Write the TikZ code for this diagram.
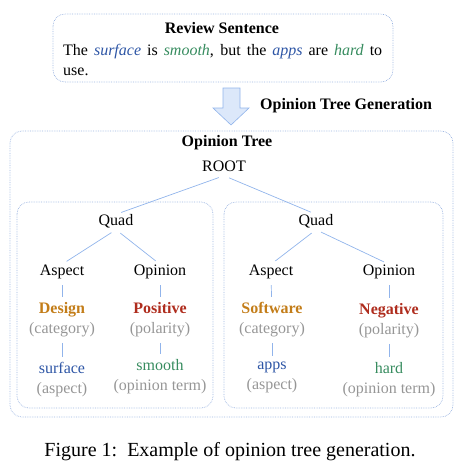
\documentclass[tikz,border=0pt]{standalone}
\usepackage{fontspec}
\setmainfont{Liberation Serif}
\usepackage{xcolor}
\usepackage{tikz}
\definecolor{marcoc}{RGB}{155,180,225}
\definecolor{ramac}{RGB}{145,180,235}
\definecolor{flechac}{RGB}{220,232,250}
\definecolor{aspc}{RGB}{45,85,165}
\definecolor{opic}{RGB}{55,140,95}
\definecolor{catc}{RGB}{195,125,25}
\definecolor{polc}{RGB}{175,45,30}
\definecolor{notac}{RGB}{150,150,150}
\tikzset{
  marco/.style={draw=marcoc, densely dotted, line width=0.7pt, rounded corners=12pt},
  nodo/.style={font=\fontsize{16}{20}\selectfont, inner sep=0pt,
    text height=11pt, text depth=4pt},
  titulo/.style={nodo, font=\fontsize{16}{20}\selectfont\bfseries},
  hoja/.style={font=\fontsize{16}{20}\selectfont, inner sep=0pt, align=center},
  rama/.style={draw=ramac, line width=0.7pt, shorten <=5.5pt, shorten >=5.5pt},
  flecha/.style={draw=ramac, fill=flechac, line width=0.6pt}
}
\newcommand{\nota}[1]{\textcolor{notac}{(#1)}}

\begin{document}
\begin{tikzpicture}[x=1pt, y=-1pt]
  \useasboundingbox (0,0) rectangle (467,474);
  % review sentence
  \draw[marco] (53,14) rectangle (393,82);
  \node[titulo] (rev) at (222,30) {Review Sentence};
  \node[hoja, anchor=north west, text width=319pt, align=justify] (revtxt) at (63,44)
    {The \textcolor{aspc}{\textit{surface}} is \textcolor{opic}{\textit{smooth}}, but the
     \textcolor{aspc}{\textit{apps}} are \textcolor{opic}{\textit{hard}} to\linebreak use.};
  \draw[flecha] (223,88) -- (240,88) -- (240,108) -- (249,108) -- (231,125)
    -- (213,108) -- (223,108) -- cycle;
  \node[titulo, anchor=west] (gen) at (260,106) {Opinion Tree Generation};
  % opinion tree
  \draw[marco] (10,131) rectangle (453,417);
  \draw[marco] (17,202) rectangle (213,408);
  \draw[marco] (224,202) rectangle (443,408);
  \node[titulo] (tit) at (227,143) {Opinion Tree};
  \node[nodo] (root) at (224,168) {ROOT};
  \node[nodo] (q1) at (116,222) {Quad};
  \node[nodo] (q2) at (316,222) {Quad};
  \node[nodo] (a1) at (62,272) {Aspect};
  \node[nodo] (o1) at (160,272) {Opinion};
  \node[nodo] (a2) at (271,272) {Aspect};
  \node[nodo] (o2) at (389,272) {Opinion};
  \node[hoja] (c1) at (62,320) {\textcolor{catc}{\textbf{Design}}\\\nota{category}};
  \node[hoja] (p1) at (160,320) {\textcolor{polc}{\textbf{Positive}}\\\nota{polarity}};
  \node[hoja] (c2) at (272,320) {\textcolor{catc}{\textbf{Software}}\\\nota{category}};
  \node[hoja] (p2) at (389,321) {\textcolor{polc}{\textbf{Negative}}\\\nota{polarity}};
  \node[hoja] (t1) at (62,380) {\textcolor{aspc}{surface}\\\nota{aspect}};
  \node[hoja] (s1) at (160,377) {\textcolor{opic}{smooth}\\\nota{opinion term}};
  \node[hoja] (t2) at (272,377) {\textcolor{aspc}{apps}\\\nota{aspect}};
  \node[hoja] (s2) at (389,380) {\textcolor{opic}{hard}\\\nota{opinion term}};
  \draw[rama] (root.south) -- (q1.north);
  \draw[rama] (root.south) -- (q2.north);
  \draw[rama] (q1.south) -- (a1.north);
  \draw[rama] (q1.south) -- (o1.north);
  \draw[rama] (q2.south) -- (a2.north);
  \draw[rama] (q2.south) -- (o2.north);
  \draw[rama] (a1) -- (c1);
  \draw[rama] (o1) -- (p1);
  \draw[rama] (a2) -- (c2);
  \draw[rama] (o2) -- (p2);
  \draw[rama] (c1) -- (t1);
  \draw[rama] (p1) -- (s1);
  \draw[rama] (c2) -- (t2);
  \draw[rama] (p2) -- (s2);
  % caption
  \node[font=\fontsize{20}{24}\selectfont, inner sep=0pt] (cap) at (230,452)
    {Figure 1:\ \ Example of opinion tree generation.};
\end{tikzpicture}
\end{document}
